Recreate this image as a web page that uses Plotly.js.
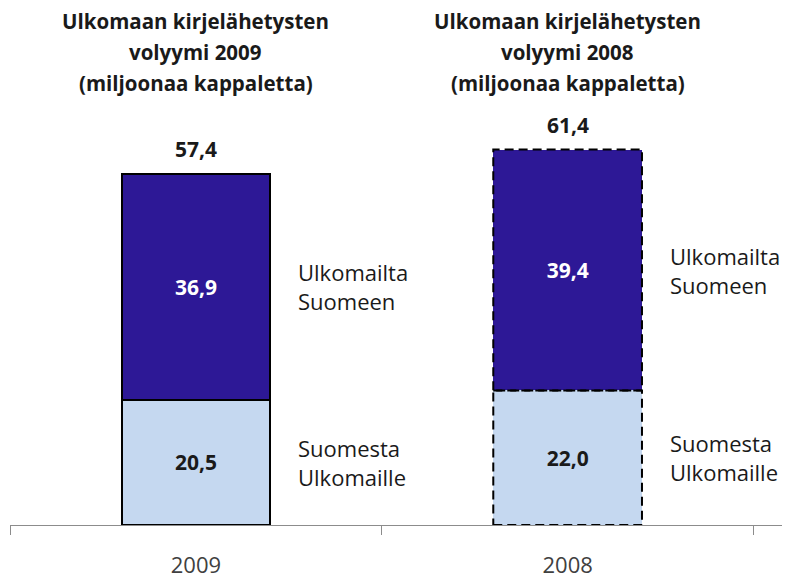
<!DOCTYPE html>
<html>
<head>
<meta charset="utf-8">
<script src="https://cdn.plot.ly/plotly-3.0.1.min.js"></script>
<style>html,body{margin:0;padding:0;background:#fff;}#chart{width:809px;height:583px;}</style>
</head>
<body>
<div id="chart"></div>
<script>
// ---- data ----
const categories = ['2009', '2008'];
const fromFinland = [20.5, 22.0];      // Suomesta Ulkomaille
const toFinland = [36.9, 39.4];        // Ulkomailta Suomeen
const titleLines = [
  ['Ulkomaan kirjelähetysten', 'volyymi 2009', '(miljoonaa kappaletta)'],
  ['Ulkomaan kirjelähetysten', 'volyymi 2008', '(miljoonaa kappaletta)']
];
const bottomLabel = 'Suomesta<br>Ulkomaille';
const topLabel = 'Ulkomailta<br>Suomeen';
const dashedCategory = [false, true];

// ---- style ----
const FONT = '"Open Sans", "Liberation Sans", sans-serif';
const DARK = '#2d1896';
const LIGHT = '#c5d8f0';
const BAR_W = 0.4;
const fmt = v => v.toFixed(1).replace('.', ',');

const lineWidths = dashedCategory.map(d => d ? 0 : 2);

const traces = [
  {
    type: 'bar', x: categories, y: fromFinland, width: BAR_W,
    marker: {color: LIGHT, line: {color: '#000', width: lineWidths}},
    texttemplate: '<b>%{y:.1f}</b>', textposition: 'inside', insidetextanchor: 'middle',
    textangle: 0, constraintext: 'none',
    textfont: {family: FONT, size: 21, color: '#1a1a1a'},
    hoverinfo: 'none', showlegend: false
  },
  {
    type: 'bar', x: categories, y: toFinland, width: BAR_W,
    marker: {color: DARK, line: {color: '#000', width: lineWidths}},
    texttemplate: '<b>%{y:.1f}</b>', textposition: 'inside', insidetextanchor: 'middle',
    textangle: 0, constraintext: 'none',
    textfont: {family: FONT, size: 21, color: '#ffffff'},
    hoverinfo: 'none', showlegend: false
  }
];

const annotations = [];
const shapes = [];
categories.forEach((c, i) => {
  const total = fromFinland[i] + toFinland[i];
  // total label
  annotations.push({
    x: i, y: total, xref: 'x', yref: 'y', text: '<b>' + fmt(total) + '</b>',
    showarrow: false, yanchor: 'bottom', yshift: 9,
    font: {family: FONT, size: 21, color: '#1a1a1a'}
  });
  // series labels beside the bar
  annotations.push({
    x: i + 0.27, y: fromFinland[i] / 2, xref: 'x', yref: 'y', text: bottomLabel,
    showarrow: false, xanchor: 'left', yanchor: 'middle', align: 'left',
    font: {family: FONT, size: 22, color: '#1a1a1a'}
  });
  annotations.push({
    x: i + 0.27, y: fromFinland[i] + toFinland[i] / 2, xref: 'x', yref: 'y', text: topLabel,
    showarrow: false, xanchor: 'left', yanchor: 'middle', align: 'left',
    font: {family: FONT, size: 22, color: '#1a1a1a'}
  });
  // panel title, one annotation per line
  titleLines[i].forEach((line, k) => {
    annotations.push({
      x: i, y: 1, xref: 'x', yref: 'paper', text: '<b>' + line + '</b>',
      showarrow: false, xanchor: 'center', yanchor: 'middle', yshift: 48 + (1 - k) * 31,
      font: {family: FONT, size: 20.5, color: '#1a1a1a'}
    });
  });
  // dashed outlines
  if (dashedCategory[i]) {
    [[0, fromFinland[i]], [fromFinland[i], total]].forEach(seg => {
      shapes.push({
        type: 'rect', xref: 'x', yref: 'y', layer: 'above',
        x0: i - BAR_W / 2, x1: i + BAR_W / 2, y0: seg[0], y1: seg[1],
        line: {color: '#000', width: 2, dash: '9px,5px'}, fillcolor: 'rgba(0,0,0,0)'
      });
    });
  }
});

const layout = {
  width: 809, height: 583,
  margin: {l: 10, r: 27, t: 100, b: 58},
  paper_bgcolor: '#fff', plot_bgcolor: '#fff',
  barmode: 'stack',
  separators: ', ',
  showlegend: false,
  xaxis: {
    type: 'category', showline: true, linecolor: '#8c8c8c', linewidth: 1,
    ticks: 'outside', tickson: 'boundaries', ticklen: 9, tickcolor: '#8c8c8c',
    showgrid: false, zeroline: false, ticklabelstandoff: 21,
    tickfont: {family: FONT, size: 22, color: '#404040'}, fixedrange: true
  },
  yaxis: {visible: false, range: [0, 69.5], fixedrange: true},
  annotations: annotations,
  shapes: shapes
};

Plotly.newPlot('chart', traces, layout, {staticPlot: true, displayModeBar: false});
</script>
</body>
</html>
